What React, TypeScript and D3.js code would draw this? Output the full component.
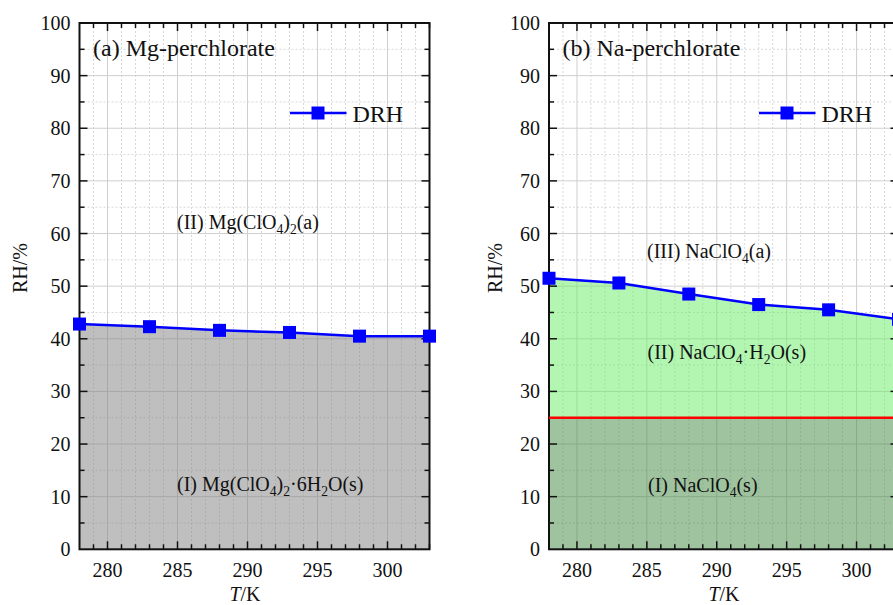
import React from "react";
import * as d3 from "d3";

// Deliquescence RH (%) versus temperature (K)
const temps = [278, 283, 288, 293, 298, 303];
const mgDRH = [42.8, 42.3, 41.6, 41.2, 40.5, 40.5];
const naDRH = [51.5, 50.6, 48.5, 46.5, 45.5, 43.7];
// NaClO4(s) -> NaClO4·H2O(s) hydration boundary
const naHydrateRH = 25;

const xMajorTicks = [280, 285, 290, 295, 300];
const xMinorTicks = d3.range(279, 304);
const yMajorTicks = [0, 10, 20, 30, 40, 50, 60, 70, 80, 90, 100];
const yMinorTicks = [5, 15, 25, 35, 45, 55, 65, 75, 85, 95];

type Seg = { t: string; sub?: boolean };

const FONT = "'Liberation Serif', 'Times New Roman', serif";

function RichText({ x, y, segs, size = 20 }: { x: number; y: number; segs: Seg[]; size?: number }) {
  const shift = 5;
  let cur = 0;
  return (
    <text x={x} y={y} fontFamily={FONT} fontSize={size} fill="#111">
      {segs.map((s, i) => {
        const target = s.sub ? shift : 0;
        const dy = target - cur;
        cur = target;
        return (
          <tspan key={i} dy={dy} fontSize={s.sub ? size * 0.68 : size}>
            {s.t}
          </tspan>
        );
      })}
    </text>
  );
}

type PanelProps = {
  x0: number;
  x1: number;
  title: string;
  drh: number[];
  hydrate?: number;
  labels: { x: number; y: number; segs: Seg[] }[];
  yLabelX: number;
  xLabelX: number;
};

function Panel({ x0, x1, title, drh, hydrate, labels, yLabelX, xLabelX }: PanelProps) {
  const x = d3.scaleLinear().domain([278, 303]).range([x0, x1]);
  const y = d3.scaleLinear().domain([0, 100]).range([549.3, 23]);
  const pts: [number, number][] = temps.map((t, i) => [t, drh[i]]);

  const line = d3
    .line<[number, number]>()
    .x((d) => x(d[0]))
    .y((d) => y(d[1]));
  const areaBelow = d3
    .area<[number, number]>()
    .x((d) => x(d[0]))
    .y0(y(hydrate ?? 0))
    .y1((d) => y(d[1]));

  const top = y(100);
  const bottom = y(0);
  const majLen = 8;
  const minLen = 5;

  return (
    <g>
      {/* minor grid */}
      {xMinorTicks
        .filter((t) => !xMajorTicks.includes(t))
        .map((t) => (
          <line key={"gxm" + t} x1={x(t)} x2={x(t)} y1={top} y2={bottom} stroke="#d8d8d8" strokeWidth={1} strokeDasharray="2,2" />
        ))}
      {yMinorTicks.map((v) => (
        <line key={"gym" + v} x1={x0} x2={x1} y1={y(v)} y2={y(v)} stroke="#d8d8d8" strokeWidth={1} strokeDasharray="2,2" />
      ))}
      {/* major grid */}
      {xMajorTicks.map((t) => (
        <line key={"gx" + t} x1={x(t)} x2={x(t)} y1={top} y2={bottom} stroke="#cfcfcf" strokeWidth={1} />
      ))}
      {yMajorTicks.slice(1, -1).map((v) => (
        <line key={"gy" + v} x1={x0} x2={x1} y1={y(v)} y2={y(v)} stroke="#cfcfcf" strokeWidth={1} />
      ))}

      {/* phase regions */}
      {hydrate === undefined ? (
        <path d={areaBelow(pts) ?? ""} fill="#808080" fillOpacity={0.5} />
      ) : (
        <>
          <path d={areaBelow(pts) ?? ""} fill="#66ee66" fillOpacity={0.5} />
          <rect x={x0} y={y(hydrate)} width={x1 - x0} height={bottom - y(hydrate)} fill="#408840" fillOpacity={0.5} />
        </>
      )}

      {/* frame */}
      <rect x={x0} y={top} width={x1 - x0} height={bottom - top} fill="none" stroke="#111" strokeWidth={2} />

      {/* ticks, pointing inward on all four sides */}
      {xMinorTicks.map((t) => {
        const len = xMajorTicks.includes(t) ? majLen : minLen;
        return (
          <g key={"tx" + t}>
            <line x1={x(t)} x2={x(t)} y1={bottom} y2={bottom - len} stroke="#111" strokeWidth={1.5} />
            <line x1={x(t)} x2={x(t)} y1={top} y2={top + len} stroke="#111" strokeWidth={1.5} />
          </g>
        );
      })}
      {[...yMajorTicks.slice(1, -1), ...yMinorTicks].map((v) => {
        const len = yMajorTicks.includes(v) ? majLen : minLen;
        return (
          <g key={"ty" + v}>
            <line x1={x0} x2={x0 + len} y1={y(v)} y2={y(v)} stroke="#111" strokeWidth={1.5} />
            <line x1={x1} x2={x1 - len} y1={y(v)} y2={y(v)} stroke="#111" strokeWidth={1.5} />
          </g>
        );
      })}

      {/* tick labels */}
      {xMajorTicks.map((t) => (
        <text key={"lx" + t} x={x(t)} y={577} textAnchor="middle" fontFamily={FONT} fontSize={20} fill="#111">
          {t}
        </text>
      ))}
      {yMajorTicks.map((v) => (
        <text key={"ly" + v} x={x0 - 9} y={y(v)} dy="0.35em" textAnchor="end" fontFamily={FONT} fontSize={20} fill="#111">
          {v}
        </text>
      ))}

      {/* axis titles */}
      <text
        transform={`translate(${yLabelX},268) rotate(-90)`}
        textAnchor="middle"
        fontFamily={FONT}
        fontSize={20}
        fill="#111"
      >
        RH/%
      </text>
      <text x={xLabelX} y={601} textAnchor="middle" fontFamily={FONT} fontSize={20} fill="#111">
        <tspan fontStyle="italic">T</tspan>/K
      </text>

      {/* panel title */}
      <text x={x0 + 13.5} y={55.5} fontFamily={FONT} fontSize={24} fill="#111">
        {title}
      </text>

      {/* region labels */}
      {labels.map((l, i) => (
        <RichText key={"r" + i} x={l.x} y={l.y} segs={l.segs} />
      ))}

      {/* hydration boundary */}
      {hydrate !== undefined && (
        <line x1={x0} x2={x1} y1={y(hydrate)} y2={y(hydrate)} stroke="#ff0000" strokeWidth={2.5} />
      )}

      {/* DRH curve */}
      <path d={line(pts) ?? ""} fill="none" stroke="#0000ff" strokeWidth={2.5} />
      {pts.map((p, i) => (
        <rect key={"m" + i} x={x(p[0]) - 6.5} y={y(p[1]) - 6.5} width={13} height={13} fill="#0000ff" />
      ))}

      {/* legend */}
      <g transform={`translate(${x1 - 139.5},113)`}>
        <line x1={0} x2={56.5} y1={0} y2={0} stroke="#0000ff" strokeWidth={2.5} />
        <rect x={28 - 6.5} y={-6.5} width={13} height={13} fill="#0000ff" />
        <text x={62.5} y={8.5} fontFamily={FONT} fontSize={24} fill="#111">
          DRH
        </text>
      </g>
    </g>
  );
}

export default function App() {
  return (
    <svg
      width={893}
      height={605}
      style={{ position: "absolute", left: 0, top: 0, background: "#fff" }}
      xmlns="http://www.w3.org/2000/svg"
    >
      <rect width={893} height={605} fill="#fff" />
      <Panel
        x0={79.5}
        x1={429.5}
        title="(a) Mg-perchlorate"
        drh={mgDRH}
        yLabelX={27}
        xLabelX={245}
        labels={[
          {
            x: 177,
            y: 229,
            segs: [{ t: "(II) Mg(ClO" }, { t: "4", sub: true }, { t: ")" }, { t: "2", sub: true }, { t: "(a)" }],
          },
          {
            x: 177,
            y: 491,
            segs: [
              { t: "(I) Mg(ClO" },
              { t: "4", sub: true },
              { t: ")" },
              { t: "2", sub: true },
              { t: "·6H" },
              { t: "2", sub: true },
              { t: "O(s)" },
            ],
          },
        ]}
      />
      <Panel
        x0={549}
        x1={898.5}
        title="(b) Na-perchlorate"
        drh={naDRH}
        hydrate={naHydrateRH}
        yLabelX={502}
        xLabelX={724}
        labels={[
          {
            x: 647,
            y: 258,
            segs: [{ t: "(III) NaClO" }, { t: "4", sub: true }, { t: "(a)" }],
          },
          {
            x: 647.5,
            y: 359,
            segs: [{ t: "(II) NaClO" }, { t: "4", sub: true }, { t: "·H" }, { t: "2", sub: true }, { t: "O(s)" }],
          },
          {
            x: 648,
            y: 491.5,
            segs: [{ t: "(I) NaClO" }, { t: "4", sub: true }, { t: "(s)" }],
          },
        ]}
      />
    </svg>
  );
}
